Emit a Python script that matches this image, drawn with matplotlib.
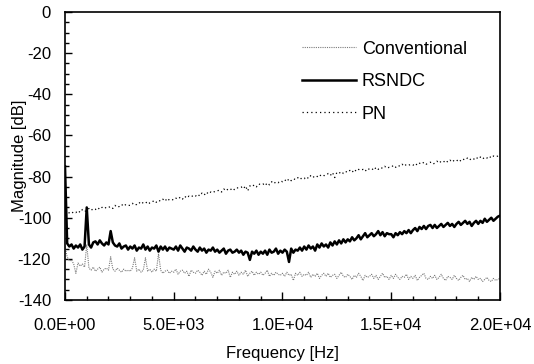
import numpy as np
import matplotlib
matplotlib.use("Agg")
import matplotlib.pyplot as plt

plt.rcParams['font.family'] = ['Liberation Sans', 'DejaVu Sans']
plt.rcParams['axes.unicode_minus'] = False

# frequency grid, 100 Hz steps
freq = np.arange(0, 20001, 100)

rsndc = [
    -75, -112.5, -114, -113, -115, -113.5, -114.5, -113, -115.5, -114,
    -95, -113, -114.5, -112, -111.5, -113, -111, -112.5, -113.5, -112,
    -113, -106.5, -112, -113.5, -114, -112.5, -115, -114, -113.5, -115.5,
    -114, -115, -113.5, -116, -114.5, -115, -113, -115.5, -114, -116,
    -114.5, -115, -113.5, -116.5, -114, -115.5, -114, -116, -114.5, -115,
    -115.5, -114, -116, -113.5, -115, -116.5, -114.5, -115, -116, -114,
    -115.5, -116.5, -114.5, -116, -115, -117, -115.5, -116, -114.5, -116.5,
    -115.5, -117, -116, -115, -117.5, -116, -115.5, -117, -116.5, -115.5,
    -117, -116, -118, -116.5, -117, -120.5, -116.5, -117.5, -116, -118,
    -116.5, -117.5, -116, -118, -115.5, -117, -116.5, -115, -117.5, -116,
    -117, -115.5, -116.5, -121.5, -115, -117, -115.5, -116, -114.5, -116,
    -114, -115.5, -113.5, -115, -114, -116, -113, -114.5, -112.5, -114,
    -113, -114.5, -112, -113.5, -111.5, -113, -111, -112.5, -110.5, -112,
    -110.5, -111.5, -109.5, -111, -110, -108.5, -110.5, -109, -107.5, -109.5,
    -108.5, -107.5, -109, -108, -106.5, -108.5, -107, -109, -107.5, -108,
    -108, -109.5, -107.5, -108.5, -107, -108, -106.5, -107.5, -106, -107.5,
    -106, -105, -106.5, -104.5, -105.5, -104, -105.5, -104, -103.5, -105,
    -103.5, -105, -104, -103, -104.5, -103.5, -102.5, -104, -103, -104.5,
    -103, -102, -103.5, -102.5, -101.5, -103, -102, -104, -102.5, -101.5,
    -103, -101.5, -102.5, -100.5, -102, -101, -100, -101.5, -100.5, -99.5,
    -99,
]

conventional = [
    -114, -119, -121, -120.5, -122.5, -127, -122, -123.5, -122.5, -124,
    -113, -124.5, -125.5, -124, -126, -125, -124, -126.5, -125, -124.5,
    -125.5, -119, -125, -126, -124.5, -125.5, -126.5, -125, -126, -125.5,
    -126, -124.5, -119.5, -126, -125, -126.5, -125.5, -119.5, -126, -125,
    -126.5, -125, -126, -117.5, -125.5, -127, -126, -125.5, -127, -126,
    -126.5, -125, -127.5, -126, -125.5, -127, -126, -128.5, -125.5, -126.5,
    -127, -125.5, -126.5, -128, -126, -127.5, -125, -126.5, -129, -126,
    -127, -125.5, -128, -126.5, -127, -125.5, -129, -126.5, -127.5, -126,
    -128, -126.5, -127.5, -125.5, -128.5, -127, -126, -128, -126.5, -127.5,
    -126.5, -128, -127, -125.5, -128.5, -127, -128, -126.5, -127.5, -128,
    -127, -128.5, -126.5, -128, -127.5, -130.5, -127, -128, -126.5, -128.5,
    -127.5, -128, -126.5, -129, -127.5, -128.5, -127, -129.5, -128, -127,
    -128.5, -127, -129, -128, -127.5, -129.5, -128, -126.5, -128.5, -129,
    -127.5, -128.5, -130, -128, -129, -127, -128.5, -130.5, -128, -129,
    -128.5, -127.5, -129.5, -128, -130, -128.5, -127, -129, -128.5, -130,
    -128, -129.5, -127.5, -129, -130, -128.5, -129, -127.5, -130, -128.5,
    -129.5, -128, -130.5, -129, -128, -127, -129.5, -130, -128.5, -129.5,
    -128, -130, -129, -127.5, -129.5, -130.5, -128.5, -129, -130, -128,
    -129.5, -130.5, -129, -128, -130, -129.5, -131, -129, -130, -128.5,
    -130, -129.5, -131, -130, -129, -130.5, -131, -129.5, -130.5, -130,
    -129.5,
]

pn = [
    -99, -98.5, -97.5, -98, -97, -97.5, -96.5, -97.5, -96, -97,
    -96.5, -95.5, -96.5, -95.5, -96, -95, -96, -95, -94.5, -95.5,
    -95, -94.5, -95.5, -94, -95, -94.5, -93.5, -94.5, -93.5, -94,
    -94, -93, -94, -93.5, -92.5, -93.5, -92.5, -93, -92, -93,
    -92.5, -91.5, -92.5, -91.5, -92, -91, -92, -90.5, -91.5, -91,
    -91.5, -90.5, -91, -90, -91, -89.5, -90.5, -89.5, -90, -89,
    -89.5, -88.5, -89.5, -88, -89, -87.5, -88.5, -87.5, -88, -87,
    -87, -86.5, -87.5, -86, -87, -86, -86.5, -85.5, -86.5, -85.5,
    -85.5, -85, -86, -84.5, -87, -84.5, -85, -84, -85, -83.5,
    -84, -83.5, -84.5, -83, -84, -82.5, -83.5, -82.5, -83, -82,
    -82.5, -81.5, -82.5, -81, -82, -81, -81.5, -80.5, -81.5, -80.5,
    -81, -80, -81, -79.5, -80.5, -79.5, -80, -79, -80, -79.5,
    -79.5, -78.5, -79.5, -78, -80.5, -78, -78.5, -77.5, -78.5, -77.5,
    -78, -77, -78, -76.5, -77.5, -76.5, -77, -76.5, -77.5, -76,
    -76.5, -76, -77, -75.5, -76.5, -75.5, -76, -75, -76, -75.5,
    -75.5, -74.5, -75.5, -74.5, -75, -74, -75, -74, -74.5, -74,
    -74.5, -73.5, -74.5, -73.5, -74, -73, -74, -73.5, -73, -74,
    -73.5, -72.5, -73.5, -72.5, -73, -72, -73, -72, -73, -72,
    -72.5, -71.5, -72.5, -71.5, -72, -71, -72, -71, -71.5, -70.5,
    -71.5, -70.5, -71.5, -70.5, -71, -70, -71, -70, -70.5, -70,
    -69.5,
]

xticks = [0, 5000, 10000, 15000, 20000]
xlabels = ['0.0E+00', '5.0E+03', '1.0E+04', '1.5E+04', '2.0E+04']
yticks = [0, -20, -40, -60, -80, -100, -120, -140]
ylabels = ['0', '-20', '-40', '-60', '-80', '-100', '-120', '-140']

fig = plt.figure(figsize=(5.34, 3.64), dpi=100)
ax = fig.add_axes([0.1217, 0.1758, 0.8146, 0.7912])

ax.plot(freq, conventional, color='#7a7a7a', lw=0.8, ls=(0, (1, 1)), label='Conventional')
ax.plot(freq, rsndc, color='black', lw=1.8, label='RSNDC')
ax.plot(freq, pn, color='black', lw=0.9, ls=(0, (1, 2.5)), label='PN')

ax.set_xlim(0, 20000)
ax.set_ylim(-140, 0)
ax.set_xticks(xticks)
ax.set_xticklabels(xlabels)
ax.set_yticks(yticks)
ax.set_yticklabels(ylabels)
ax.set_xticks(np.arange(0, 20001, 1000), minor=True)
ax.set_yticks(np.arange(-140, 1, 5), minor=True)
ax.tick_params(which='both', direction='in', top=False, right=False, width=1, labelsize=12)
ax.tick_params(axis='x', which='major', length=6, pad=13)
ax.tick_params(axis='x', which='minor', length=3)
ax.tick_params(axis='y', which='major', length=5, pad=10)
ax.tick_params(axis='y', which='minor', length=3)
for s in ax.spines.values():
    s.set_linewidth(1.2)

ax.set_xlabel('Frequency [Hz]', fontsize=12, labelpad=9)
ax.set_ylabel('Magnitude [dB]', fontsize=12)
ax.yaxis.set_label_coords(-0.088, 0.5)

ax.legend(loc='upper left', bbox_to_anchor=(0.545, 0.9), frameon=False, fontsize=13,
          handlelength=3, handletextpad=0.3, labelspacing=0.85, borderpad=0, borderaxespad=0)

fig.savefig('out.png', dpi=100)
